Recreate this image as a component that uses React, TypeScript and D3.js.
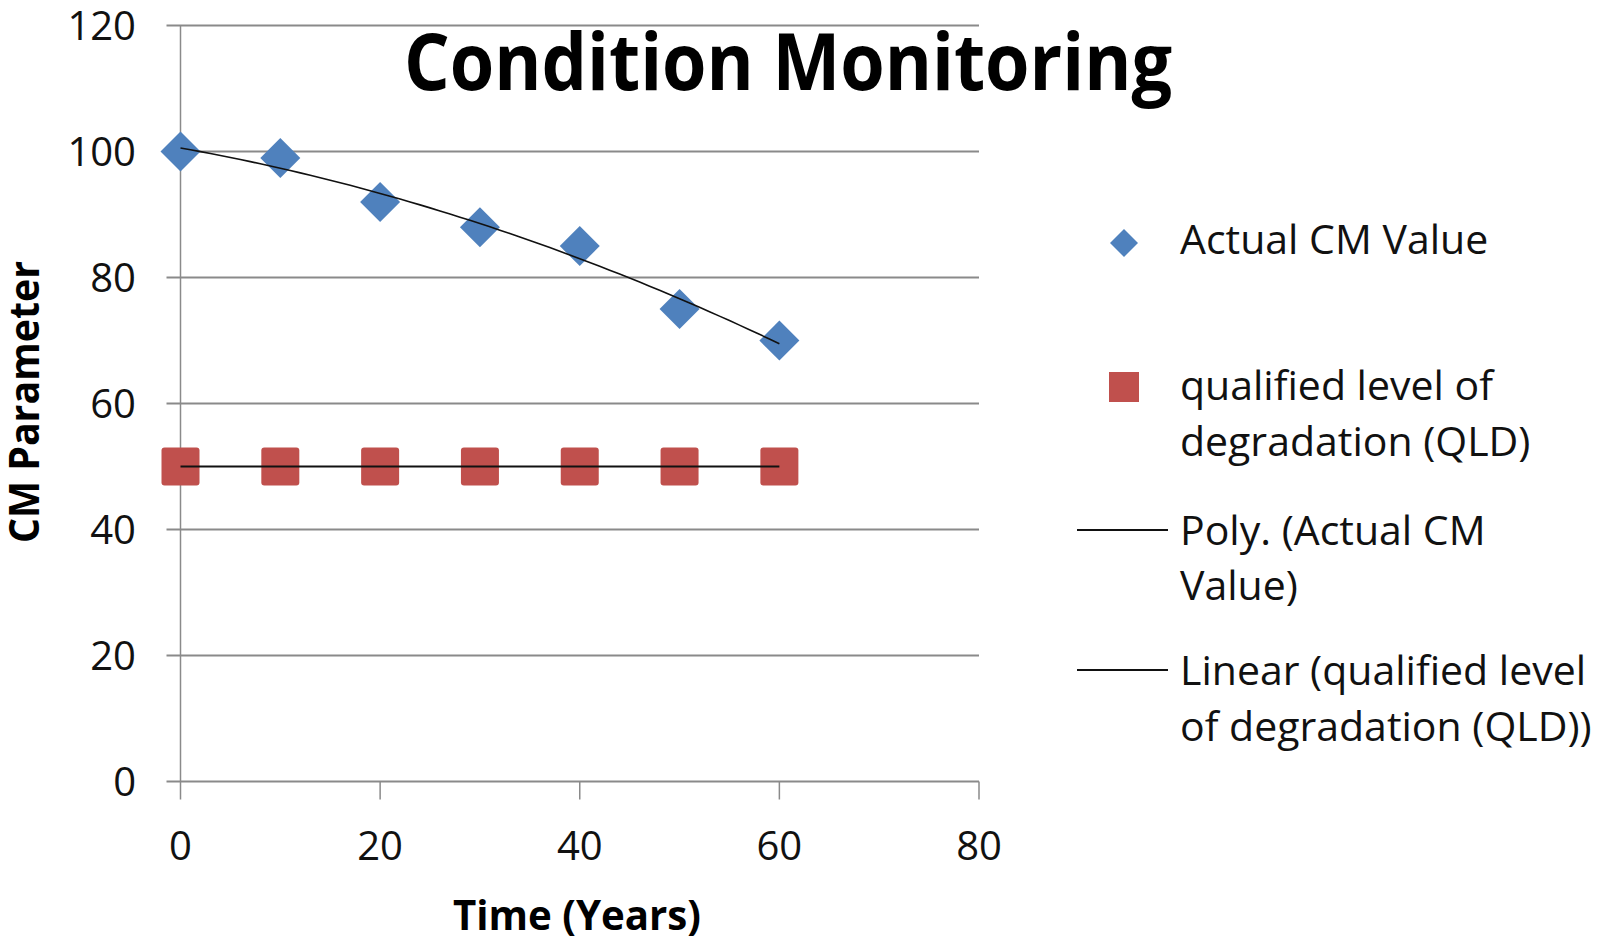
import React, { useEffect, useRef } from 'react'
import * as d3 from 'd3'

const years = [0, 10, 20, 30, 40, 50, 60]
const actualCM = [100, 99, 92, 88, 85, 75, 70]
const qld = [50, 50, 50, 50, 50, 50, 50]
const xTicks = [0, 20, 40, 60, 80]
const yTicks = [0, 20, 40, 60, 80, 100, 120]

const legendRows = [
  { kind: 'diamond', lines: ['Actual CM Value'] },
  { kind: 'square', lines: ['qualified level of', 'degradation (QLD)'] },
  { kind: 'line', lines: ['Poly. (Actual CM', 'Value)'] },
  { kind: 'line', lines: ['Linear (qualified level', 'of degradation (QLD))'] }
]

// least squares polynomial fit (order 2 for Poly., 1 for Linear)
function polyFit(xs: number[], ys: number[], order: number) {
  const n = order + 1
  const A: number[][] = []
  for (let i = 0; i < n; i++) {
    A.push([])
    for (let j = 0; j < n; j++) A[i].push(d3.sum(xs, x => Math.pow(x, i + j)))
    A[i].push(d3.sum(xs, (x, k) => Math.pow(x, i) * ys[k]))
  }
  for (let c = 0; c < n; c++) {
    for (let r = c + 1; r < n; r++) {
      const f = A[r][c] / A[c][c]
      for (let k = c; k <= n; k++) A[r][k] -= f * A[c][k]
    }
  }
  const coef = new Array(n).fill(0)
  for (let r = n - 1; r >= 0; r--) {
    let s = A[r][n]
    for (let k = r + 1; k < n; k++) s -= A[r][k] * coef[k]
    coef[r] = s / A[r][r]
  }
  return (x: number) => coef.reduce((acc, c, i) => acc + c * Math.pow(x, i), 0)
}

const W = 1608
const H = 948
const font = '"Open Sans", "DejaVu Sans", sans-serif'

export default function App() {
  const svgRef = useRef<SVGSVGElement>(null)

  useEffect(() => {
    if (!svgRef.current) return
    const svg = d3.select(svgRef.current)
    svg.selectAll('*').remove()

    const x = d3.scaleLinear().domain([0, 80]).range([180.5, 979])
    const y = d3.scaleLinear().domain([0, 120]).range([781.5, 25.6])

    svg.append('rect').attr('width', W).attr('height', H).attr('fill', '#fff')

    // Gridlines
    svg.append('g')
      .selectAll('line')
      .data(yTicks)
      .enter().append('line')
      .attr('x1', x(0) - 14)
      .attr('x2', x(80))
      .attr('y1', d => y(d))
      .attr('y2', d => y(d))
      .attr('stroke', '#8a8a8a')
      .attr('stroke-width', 2)

    // y axis line
    svg.append('line')
      .attr('x1', x(0)).attr('x2', x(0))
      .attr('y1', y(120)).attr('y2', y(0) + 18)
      .attr('stroke', '#8a8a8a')
      .attr('stroke-width', 1.5)

    // x ticks
    svg.append('g')
      .selectAll('line')
      .data(xTicks.slice(1))
      .enter().append('line')
      .attr('x1', d => x(d)).attr('x2', d => x(d))
      .attr('y1', y(0)).attr('y2', y(0) + 18)
      .attr('stroke', '#8a8a8a')
      .attr('stroke-width', 1.5)

    // tick labels
    svg.append('g')
      .selectAll('text')
      .data(yTicks)
      .enter().append('text')
      .attr('x', 136)
      .attr('y', d => y(d) + 14)
      .attr('text-anchor', 'end')
      .style('font-family', font)
      .style('font-size', '40px')
      .attr('fill', '#111')
      .text(d => d)

    svg.append('g')
      .selectAll('text')
      .data(xTicks)
      .enter().append('text')
      .attr('x', d => x(d))
      .attr('y', 860)
      .attr('text-anchor', 'middle')
      .style('font-family', font)
      .style('font-size', '40px')
      .attr('fill', '#111')
      .text(d => d)

    // trendlines
    const poly = polyFit(years, actualCM, 2)
    const lin = polyFit(years, qld, 1)
    const fine = d3.range(0, 60.5, 1)
    const line = d3.line<number>()

    // QLD markers (under linear trend)
    svg.append('g')
      .selectAll('rect')
      .data(years)
      .enter().append('rect')
      .attr('x', d => x(d) - 19)
      .attr('y', (d, i) => y(qld[i]) - 19)
      .attr('width', 38)
      .attr('height', 38)
      .attr('rx', 3)
      .attr('fill', '#c0504d')

    svg.append('path')
      .attr('d', line([[x(0), y(lin(0))], [x(60), y(lin(60))]]))
      .attr('fill', 'none')
      .attr('stroke', '#111')
      .attr('stroke-width', 2)

    // Actual CM diamonds
    const diamond = (cx: number, cy: number, r: number) =>
      `M${cx},${cy - r}L${cx + r},${cy}L${cx},${cy + r}L${cx - r},${cy}Z`
    svg.append('g')
      .selectAll('path')
      .data(years)
      .enter().append('path')
      .attr('d', (d, i) => diamond(x(d), y(actualCM[i]), 20))
      .attr('fill', '#4f81bd')

    // poly trend on top of diamonds
    svg.append('path')
      .attr('d', line(fine.map(t => [x(t), y(poly(t))]) as any))
      .attr('fill', 'none')
      .attr('stroke', '#111')
      .attr('stroke-width', 1.6)

    // Title
    svg.append('text')
      .attr('x', 788)
      .attr('y', 90)
      .attr('text-anchor', 'middle')
      .attr('textLength', 768)
      .attr('lengthAdjust', 'spacingAndGlyphs')
      .style('font-family', font)
      .style('font-weight', 'bold')
      .style('font-size', '78px')
      .text('Condition Monitoring')

    // Axis titles
    svg.append('text')
      .attr('x', 577)
      .attr('y', 930)
      .attr('text-anchor', 'middle')
      .attr('textLength', 248)
      .attr('lengthAdjust', 'spacingAndGlyphs')
      .style('font-family', font)
      .style('font-weight', 'bold')
      .style('font-size', '42px')
      .text('Time (Years)')

    svg.append('text')
      .attr('transform', 'translate(39,402) rotate(-90)')
      .attr('text-anchor', 'middle')
      .attr('textLength', 282)
      .attr('lengthAdjust', 'spacingAndGlyphs')
      .style('font-family', font)
      .style('font-weight', 'bold')
      .style('font-size', '42px')
      .text('CM Parameter')

    // Legend
    const baselines = [[254], [400, 456], [545, 600], [685, 741]]
    const lg = svg.append('g')
    legendRows.forEach((row, i) => {
      row.lines.forEach((t, j) => {
        lg.append('text')
          .attr('x', 1180)
          .attr('y', baselines[i][j])
          .style('font-family', font)
          .style('font-size', '41px')
          .attr('fill', '#111')
          .text(t)
      })
      if (row.kind === 'diamond') {
        lg.append('path').attr('d', diamond(1124, 243, 14)).attr('fill', '#4f81bd')
      } else if (row.kind === 'square') {
        lg.append('rect')
          .attr('x', 1109).attr('y', 372).attr('width', 30).attr('height', 30)
          .attr('fill', '#c0504d')
      } else {
        const ly = baselines[i][0] - 15
        lg.append('line')
          .attr('x1', 1077).attr('x2', 1168)
          .attr('y1', ly).attr('y2', ly)
          .attr('stroke', '#111')
          .attr('stroke-width', 2)
      }
    })
  }, [])

  return (
    <div style={{ position: 'absolute', left: 0, top: 0 }}>
      <svg ref={svgRef} width={W} height={H} style={{ display: 'block' }} />
    </div>
  )
}
